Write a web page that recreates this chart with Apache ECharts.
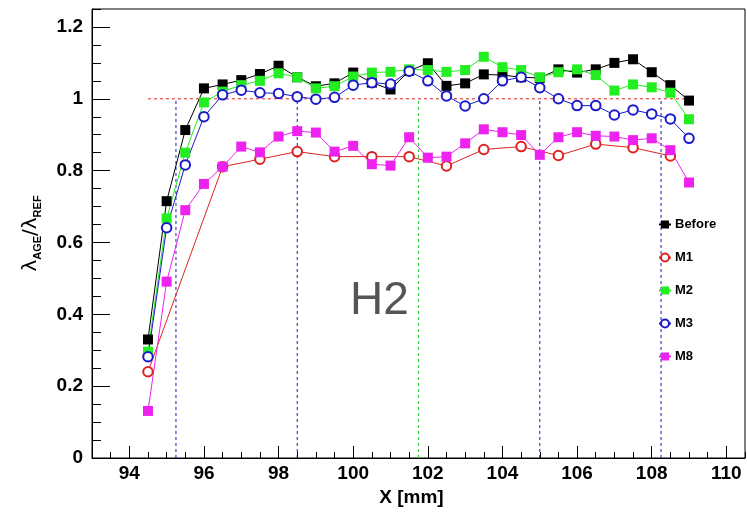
<!DOCTYPE html>
<html><head><meta charset="utf-8">
<script src="https://cdn.jsdelivr.net/npm/echarts@6/dist/echarts.min.js"></script>
<style>html,body{margin:0;padding:0;background:#fff}#c{width:747px;height:514px}</style>
</head><body><div id="c"></div>
<script>
const xs = [94.5,95,95.5,96,96.5,97,97.5,98,98.5,99,99.5,100,100.5,101,101.5,102,102.5,103,103.5,104,104.5,105,105.5,106,106.5,107,107.5,108,108.5,109];
const before = [0.33,0.715,0.913,1.029,1.040,1.052,1.069,1.092,1.06,1.035,1.043,1.073,1.045,1.026,1.078,1.099,1.036,1.043,1.068,1.066,1.06,1.058,1.082,1.073,1.082,1.100,1.110,1.074,1.038,0.995];
const m1X = [94.5,96.5,97.5,98.5,99.5,100.5,101.5,102.5,103.5,104.5,105.5,106.5,107.5,108.5];
const m1 = [0.240,0.811,0.832,0.853,0.839,0.839,0.839,0.813,0.859,0.867,0.842,0.874,0.864,0.841];
const m2 = [0.296,0.667,0.85,0.990,1.02,1.038,1.050,1.071,1.060,1.029,1.035,1.062,1.073,1.075,1.082,1.080,1.075,1.080,1.117,1.088,1.080,1.060,1.074,1.082,1.066,1.023,1.040,1.032,1.017,0.943];
const m3 = [0.282,0.641,0.816,0.950,1.011,1.024,1.017,1.015,1.006,0.999,1.004,1.038,1.045,1.041,1.077,1.050,1.008,0.980,1.000,1.050,1.060,1.031,1.000,0.981,0.981,0.955,0.969,0.958,0.944,0.890];
const m8 = [0.131,0.491,0.69,0.763,0.811,0.867,0.851,0.895,0.910,0.906,0.853,0.869,0.818,0.814,0.893,0.836,0.839,0.876,0.915,0.907,0.899,0.844,0.893,0.907,0.897,0.895,0.885,0.890,0.857,0.767];
const xTicks = [94,96,98,100,102,104,106,108,110];
const yTicks = [0,0.2,0.4,0.6,0.8,1,1.2];
const blueLinesX = [95.25,98.5,105,108.25];
const greenLinesX = [101.75];
const refLevel = 1;
const refRange = [94.5,109];

const zip = (a, b) => a.map((v, i) => [v, b[i]]);
const FONT = 'Liberation Sans, Arial, Helvetica, sans-serif';
const C = {before:'#000000', m1:'#dd2222', m2:'#22ee22', m3:'#1a1acc', m8:'#ee22ee'};

function vline(x, color) {
  return {type:'line', xAxisIndex:0, yAxisIndex:0, data:[[x,0],[x,refLevel]], symbol:'none', silent:true,
    lineStyle:{color:color, width:1, type:[3,3]}, z:1};
}
function dataSeries(name, data, color, symbol) {
  const open = symbol === 'emptyCircle';
  return {name:name, type:'line', xAxisIndex:0, yAxisIndex:0, data:data, symbol:symbol,
    symbolSize: open ? 9.5 : 10, showSymbol:true, clip:false,
    lineStyle:{color:color, width:1},
    itemStyle: open ? {color:color, borderColor:color, borderWidth:1.3} : {color:color, borderWidth:0},
    z:3};
}

const chart = echarts.init(document.getElementById('c'), null, {renderer:'canvas'});
const series = [];
blueLinesX.forEach(x => series.push(vline(x, '#1a1aaa')));
greenLinesX.forEach(x => series.push(vline(x, '#33cc33')));
series.push({type:'line', data:[[refRange[0],refLevel],[refRange[1],refLevel]], symbol:'none', silent:true,
  lineStyle:{color:'#dd2222', width:1, type:[3,3]}, z:1});
series.push(dataSeries('Before', zip(xs, before), C.before, 'rect'));
series.push(dataSeries('M1', zip(m1X, m1), C.m1, 'emptyCircle'));
series.push(dataSeries('M2', zip(xs, m2), C.m2, 'rect'));
series.push(dataSeries('M3', zip(xs, m3), C.m3, 'emptyCircle'));
series.push(dataSeries('M8', zip(xs, m8), C.m8, 'rect'));

const option = {
  animation:false,
  backgroundColor:'#fff',
  grid:{left:92, right:2, top:9, bottom:56, show:true, borderColor:'#000', borderWidth:1, containLabel:false},
  legend:{orient:'vertical', left:658, top:218, padding:0, itemWidth:12, itemHeight:10, itemGap:20,
    data:['Before','M1','M2','M3','M8'],
    textStyle:{fontFamily:FONT, fontWeight:'bold', fontSize:13, color:'#000', padding:[0,0,0,-1]}},
  xAxis:[
    {type:'value', min:93, max:110.5, interval:0.5, position:'bottom',
     axisLine:{show:true, lineStyle:{color:'#000', width:1}}, splitLine:{show:false},
     axisTick:{show:true, inside:true, length:6, lineStyle:{color:'#000'}}, axisLabel:{show:false}},
    {type:'value', min:93, max:110.5, position:'bottom',
     name:'X [mm]', nameLocation:'middle', nameGap:30,
     nameTextStyle:{fontFamily:FONT, fontWeight:'bold', fontSize:19, color:'#000', padding:[0,14,0,0]},
     axisLine:{show:false}, splitLine:{show:false},
     axisTick:{show:true, inside:true, length:12, customValues:xTicks, lineStyle:{color:'#000'}},
     axisLabel:{show:true, customValues:xTicks, margin:6, fontFamily:FONT, fontWeight:'bold', fontSize:19, color:'#000'}}
  ],
  yAxis:[
    {type:'value', min:0, max:1.25, interval:0.05, position:'left',
     axisLine:{show:true, lineStyle:{color:'#000', width:1}}, splitLine:{show:false},
     axisTick:{show:true, inside:true, length:9, lineStyle:{color:'#000'}}, axisLabel:{show:false}},
    {type:'value', min:0, max:1.25, position:'left',
     name:'{l|λ}{s|AGE}{l|/λ}{s|REF}', nameLocation:'middle', nameGap:49, nameRotate:90,
     nameTextStyle:{rich:{
       l:{fontFamily:'DejaVu Sans, sans-serif', fontSize:20, color:'#000', lineHeight:24, verticalAlign:'middle'},
       s:{fontFamily:FONT, fontWeight:'bold', fontSize:11, color:'#000', lineHeight:24, verticalAlign:'bottom'}}},
     axisLine:{show:false}, splitLine:{show:false},
     axisTick:{show:true, inside:true, length:18, customValues:yTicks, lineStyle:{color:'#000'}},
     axisLabel:{show:true, customValues:yTicks, margin:9, fontFamily:FONT, fontWeight:'bold', fontSize:19, color:'#000'}}
  ],
  graphic:[{type:'text', left:350, top:278, style:{text:'H2', fontFamily:FONT, fontSize:46, fill:'#555'}}],
  series:series
};
chart.setOption(option);
</script></body></html>
